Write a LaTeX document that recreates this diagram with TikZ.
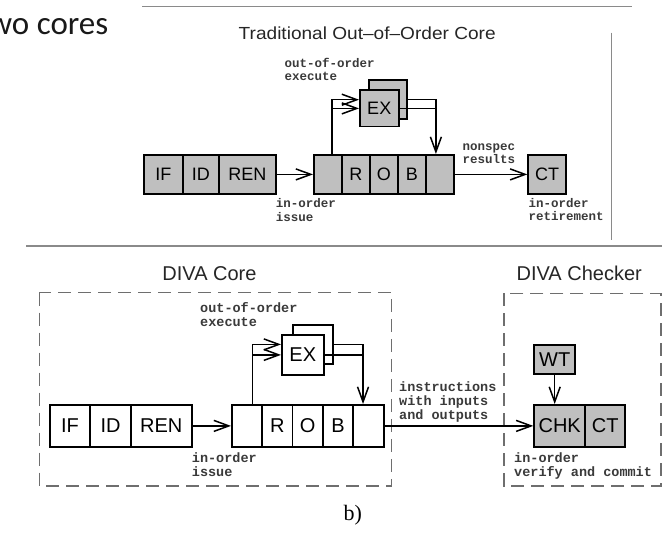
\documentclass[tikz,border=0pt]{standalone}
\usepackage{fontspec}
\setmainfont{Liberation Sans}
\newfontfamily\monofont{Liberation Mono}
\newfontfamily\seriffont{Liberation Serif}
\newfontfamily\slidefont{Carlito}
\usetikzlibrary{arrows.meta}

\definecolor{boxgray}{HTML}{BFBFBF}
\definecolor{rulegray}{HTML}{8A8A8A}
\definecolor{dashgray}{HTML}{6E6E6E}
\definecolor{notegray}{HTML}{3A3A3A}

\tikzset{
  cell/.style={draw=black, line width=1.8pt, inner sep=0pt, anchor=north west,
               font=\fontsize{18}{20}\selectfont},
  bigcell/.style={cell, font=\fontsize{20}{22}\selectfont},
  shaded/.style={fill=boxgray},
  blank/.style={fill=white},
  wire/.style={line width=1.5pt, draw=black},
  tip/.style={-{Straight Barb[length=15pt,width=11pt,line width=1.5pt]}},
  % multi-line notes: the anchor sits on the baseline of the last line
  note/.style={anchor=base west, align=left, inner sep=0pt, text=notegray,
               font=\monofont\bfseries\fontsize{12.5}{13.3}\selectfont},
  bignote/.style={note, font=\monofont\bfseries\fontsize{13.5}{13.8}\selectfont},
  heading/.style={anchor=base, inner sep=0pt, text=black!85},
  frame/.style={draw=dashgray, line width=1.4pt, dash pattern=on 13pt off 7pt},
  rule/.style={draw=rulegray, line width=1.5pt},
}

\begin{document}
\begin{tikzpicture}[x=1pt,y=-1pt]
\useasboundingbox (0,0) rectangle (662,535);
\clip (0,0) rectangle (662,535);
\fill[white] (0,0) rectangle (662,535);

% slide caption, cut by the left edge
\node[anchor=base east, inner sep=0pt, text=black!90,
      font=\slidefont\fontsize{33}{36}\selectfont] (caption) at (108.5,34.3) {two cores};

% rules separating the two panels
\draw[rule] (142,6.5) -- (632,6.5);
\draw[rule] (611.7,32.7) -- (611.7,239.5);
\draw[rule] (26,246) -- (662,246);

% ---------------- traditional out-of-order core ----------------
\node[heading, font=\fontsize{17.5}{20}\selectfont] (ttitle) at (367.2,39.3)
  {\scalebox{1.09}[1]{Traditional Out–of–Order Core}};

\node[cell,shaded,minimum width=39pt,minimum height=39pt] (tif)  at (143,154) {IF};
\node[cell,shaded,minimum width=36pt,minimum height=39pt] (tid)  at (182,154) {ID};
\node[cell,shaded,minimum width=57pt,minimum height=39pt] (tren) at (218,154) {REN};

\node[cell,shaded,minimum width=28pt,minimum height=39pt] (trob1) at (313,154) {};
\node[cell,shaded,minimum width=28pt,minimum height=39pt] (trob2) at (341,154) {R};
\node[cell,shaded,minimum width=28pt,minimum height=39pt] (trob3) at (369,154) {O};
\node[cell,shaded,minimum width=28pt,minimum height=39pt] (trob4) at (397,154) {B};
\node[cell,shaded,minimum width=28pt,minimum height=39pt] (trob5) at (425,154) {};

\node[cell,shaded,minimum width=37.7pt,minimum height=39pt]   (texb) at (368.3,79.3) {};
\node[cell,shaded,minimum width=38.7pt,minimum height=36.4pt] (texf) at (359,89.3) {EX};

\node[cell,shaded,minimum width=37.7pt,minimum height=38.4pt] (tct) at (527.3,154.3) {CT};

\draw[wire,tip] (tren.east) -- (trob1.west);
\draw[wire,tip] (trob5.east) -- (tct.west);

\coordinate (tup) at ([xshift=4pt]trob1.north);
\draw[wire,tip] (tup) |- (texf.west |- texb.east);
\draw[wire,tip] (tup |- texf.west) -- (texf.west);
\coordinate (tdown) at ([xshift=-4pt]trob5.north);
\draw[wire,tip] (texb.east) -| (tdown);
\draw[wire] (texf.east) -- (texf.east -| tdown);

\node[note] (tooo)   at (284.3,81)    {out-of-order\\execute};
\node[note] (tissue) at (275.7,221)   {in-order\\issue};
\node[note] (tnon)   at (462.3,164)   {nonspec\\results};
\node[note] (tret)   at (528.3,220.7) {in-order\\retirement};

% ---------------- DIVA core and checker ----------------
\node[heading, font=\fontsize{20}{22}\selectfont] (dtitle) at (209.5,280) {DIVA Core};
\node[heading, font=\fontsize{20}{22}\selectfont] (ctitle) at (579.2,280) {DIVA Checker};

\draw[frame] (39.3,292.7) rectangle (391.7,486);
\draw[frame] (504,293.3) rectangle (661,486);

\node[bigcell,blank,minimum width=40.3pt,minimum height=42pt] (dif)  at (49,404)   {IF};
\node[bigcell,blank,minimum width=40.7pt,minimum height=42pt] (did)  at (89.3,404) {ID};
\node[bigcell,blank,minimum width=60.7pt,minimum height=42pt] (dren) at (130,404)  {REN};

\node[bigcell,blank,minimum width=30.34pt,minimum height=42pt] (drob1) at (231,404)    {};
\node[bigcell,blank,minimum width=30.34pt,minimum height=42pt] (drob2) at (261.34,404) {R};
\node[bigcell,blank,minimum width=30.34pt,minimum height=42pt] (drob3) at (291.68,404) {O};
\node[bigcell,blank,minimum width=30.34pt,minimum height=42pt] (drob4) at (322.02,404) {B};
\node[bigcell,blank,minimum width=30.34pt,minimum height=42pt] (drob5) at (352.36,404) {};

\node[bigcell,blank,minimum width=40pt,minimum height=39pt]   (dexb) at (291.7,324) {};
\node[bigcell,blank,minimum width=41.7pt,minimum height=40pt] (dexf) at (281,334)   {EX};

\node[bigcell,shaded,minimum width=41pt,minimum height=29.3pt] (wt)  at (533.3,344) {WT};
\node[bigcell,shaded,minimum width=51pt,minimum height=42pt]   (chk) at (533.3,404) {CHK};
\node[bigcell,shaded,minimum width=40pt,minimum height=42pt]   (dct) at (584.3,404) {CT};

\draw[wire,tip] (dren.east) -- (drob1.west);
\draw[wire,tip] (drob5.east) -- (chk.west);
\draw[wire,tip] (wt.south) -- (wt.south |- chk.north);

\coordinate (dup) at ([xshift=5.4pt]drob1.north);
\draw[wire,tip] (dup) |- (dexf.west |- dexb.east);
\draw[wire,tip] (dup |- dexf.west) -- (dexf.west);
\coordinate (ddown) at ([xshift=-5.4pt]drob5.north);
\draw[wire,tip] (dexb.east) -| (ddown);
\draw[wire] (dexf.east) -- (dexf.east -| ddown);

\node[bignote] (dooo)   at (200,326)     {out-of-order\\execute};
\node[bignote] (dissue) at (191.7,476)   {in-order\\issue};
\node[bignote] (dinst)  at (399,419.3)   {instructions\\with inputs\\and outputs};
\node[bignote] (dver)   at (514,476)     {in-order\\verify and commit};

\node[anchor=base west, inner sep=0pt, font=\seriffont\fontsize{22}{24}\selectfont]
  (sub) at (343.3,520) {b)};
\end{tikzpicture}
\end{document}
